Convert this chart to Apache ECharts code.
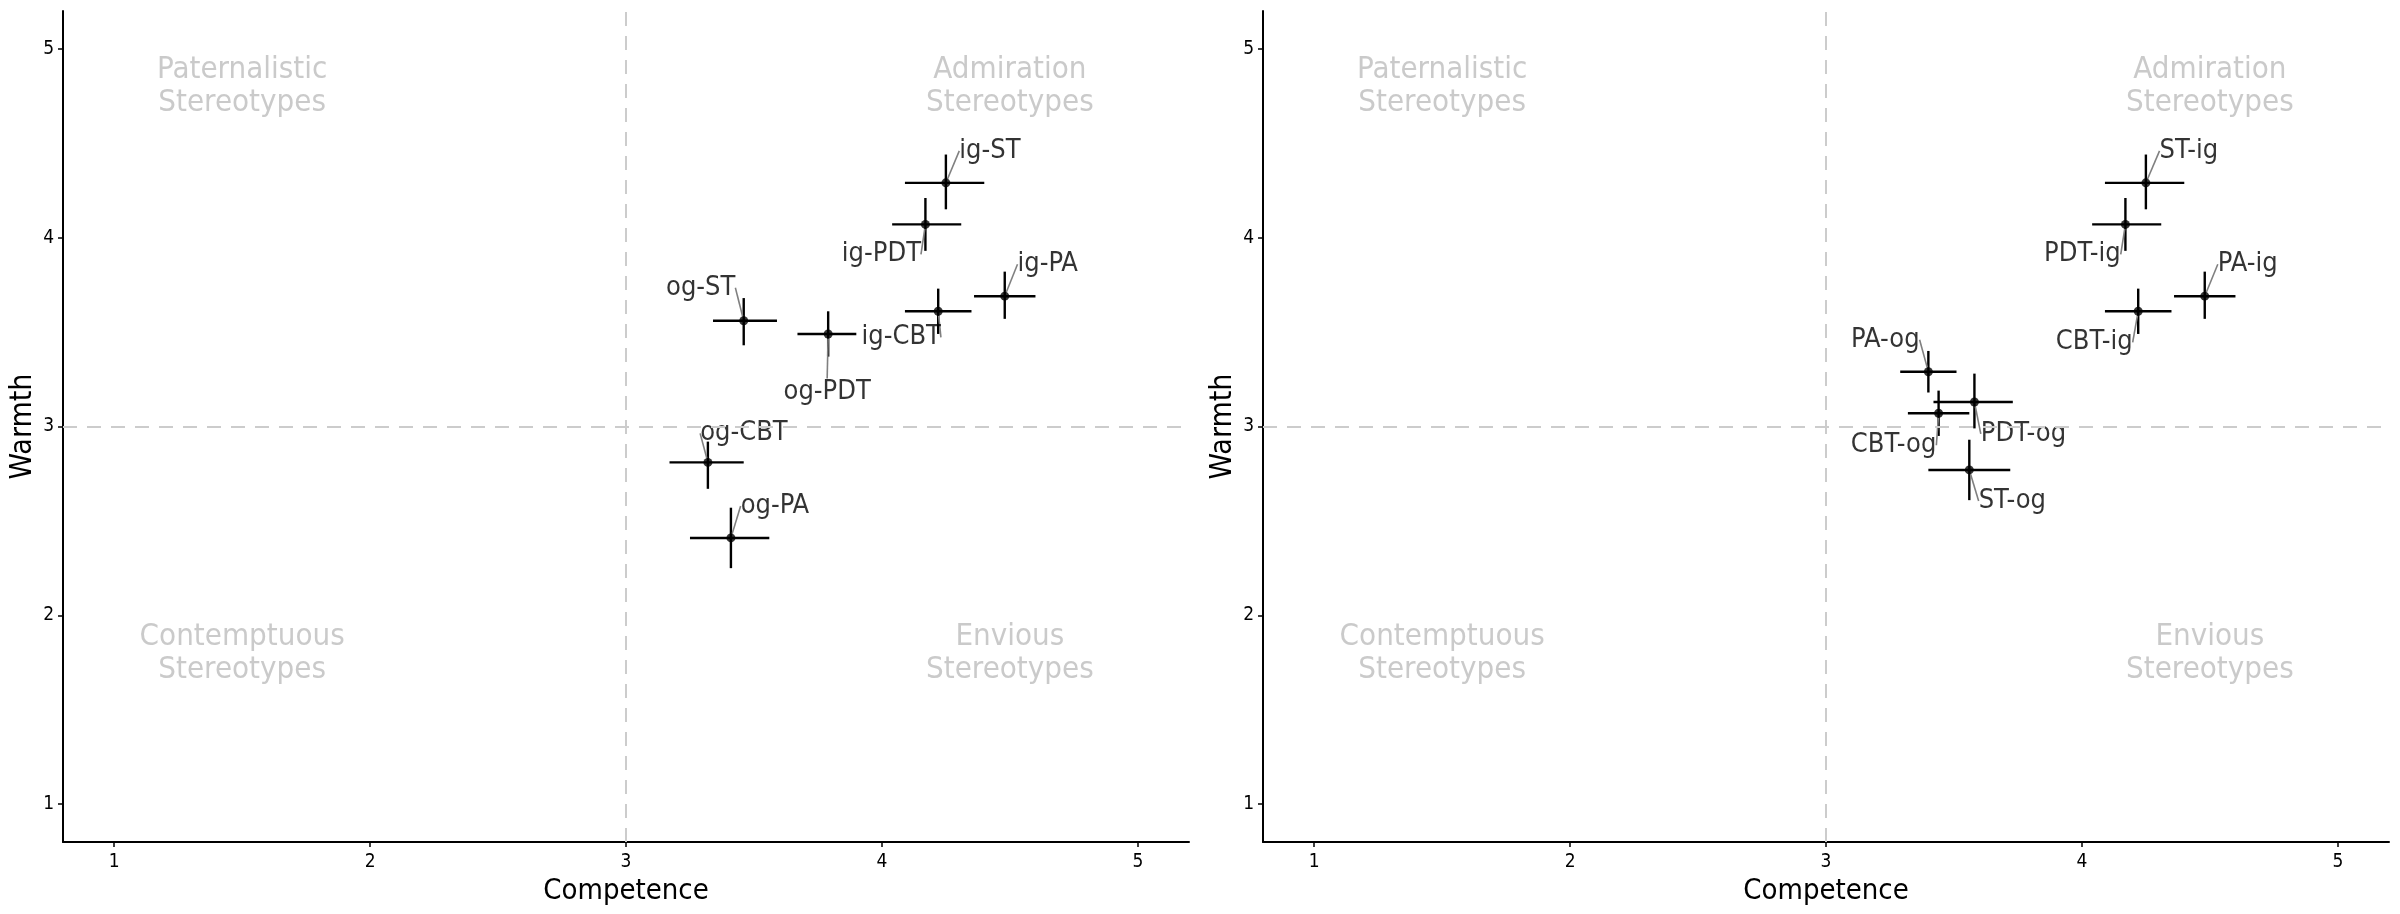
<!DOCTYPE html>
<html>
<head>
<meta charset="utf-8">
<title>Stereotype content</title>
<script src="https://cdn.jsdelivr.net/npm/echarts@6/dist/echarts.min.js"></script>
<style>
	html, body { margin: 0; padding: 0; background: #fff; }
	#myChart { width: 2400px; height: 914px; }
</style>
</head>
<body>
<div id="myChart"></div>
<script>
// left panel
var leftLabels = ['ig-ST', 'ig-PDT', 'ig-PA', 'ig-CBT', 'og-ST', 'og-PDT', 'og-CBT', 'og-PA'];
var leftComp = [4.25, 4.17, 4.48, 4.22, 3.46, 3.79, 3.32, 3.41];
var leftWarm = [4.29, 4.07, 3.69, 3.61, 3.56, 3.49, 2.81, 2.41];
var leftCompLo = [4.09, 4.04, 4.36, 4.09, 3.34, 3.67, 3.17, 3.25];
var leftCompHi = [4.40, 4.31, 4.60, 4.35, 3.59, 3.90, 3.46, 3.56];
var leftWarmLo = [4.15, 3.93, 3.57, 3.49, 3.43, 3.37, 2.67, 2.25];
var leftWarmHi = [4.44, 4.21, 3.82, 3.73, 3.68, 3.61, 2.92, 2.57];

// right panel
var rightLabels = ['ST-ig', 'PDT-ig', 'PA-ig', 'CBT-ig', 'PA-og', 'PDT-og', 'CBT-og', 'ST-og'];
var rightComp = [4.25, 4.17, 4.48, 4.22, 3.40, 3.58, 3.44, 3.56];
var rightWarm = [4.29, 4.07, 3.69, 3.61, 3.29, 3.13, 3.07, 2.77];
var rightCompLo = [4.09, 4.04, 4.36, 4.09, 3.29, 3.42, 3.32, 3.40];
var rightCompHi = [4.40, 4.31, 4.60, 4.35, 3.51, 3.73, 3.56, 3.72];
var rightWarmLo = [4.15, 3.93, 3.57, 3.49, 3.18, 2.99, 2.95, 2.61];
var rightWarmHi = [4.44, 4.21, 3.82, 3.73, 3.40, 3.28, 3.19, 2.93];

// quadrant captions
var quadText = ['Paternalistic\nStereotypes', 'Admiration\nStereotypes', 'Contemptuous\nStereotypes', 'Envious\nStereotypes'];
var quadComp = [1.5, 4.5, 1.5, 4.5];
var quadWarm = [4.8, 4.8, 1.8, 1.8];

var tickValues = [1, 2, 3, 4, 5];

// where the repelled labels sit, in px from their point
var leftOffsets = [[44, -32], [-44, 30], [43, -32], [-37, 26], [-43, -33], [-1, 58], [36, -29], [44, -32]];
var rightOffsets = [[43, -32], [-43, 30], [43, -32], [-44, 31], [-43, -32], [49, 32], [-45, 32], [43, 31]];

var FONT = '"DejaVu Sans Condensed", "DejaVu Sans", sans-serif';

function barData(comp, warm, lo, hi, wlo, whi) {
	var out = [];
	for (var i = 0; i < comp.length; i++) {
		out.push([comp[i], warm[i], lo[i], hi[i], wlo[i], whi[i]]);
	}
	return out;
}

function pointData(comp, warm, labels) {
	var out = [];
	for (var i = 0; i < comp.length; i++) {
		out.push({ name: labels[i], value: [comp[i], warm[i]] });
	}
	return out;
}

function quadData() {
	var out = [];
	for (var i = 0; i < quadText.length; i++) {
		out.push({ name: quadText[i], value: [quadComp[i], quadWarm[i]] });
	}
	return out;
}

function renderBars(params, api) {
	var x = api.value(0), y = api.value(1);
	var a = api.coord([api.value(2), y]), b = api.coord([api.value(3), y]);
	var c = api.coord([x, api.value(4)]), d = api.coord([x, api.value(5)]);
	var st = { stroke: '#000', lineWidth: 2.4 };
	return {
		type: 'group',
		children: [
			{ type: 'line', shape: { x1: a[0], y1: a[1], x2: b[0], y2: b[1] }, style: st },
			{ type: 'line', shape: { x1: c[0], y1: c[1], x2: d[0], y2: d[1] }, style: st }
		]
	};
}

function xAxisFor(idx) {
	return {
		type: 'value', gridIndex: idx, min: 0.8, max: 5.2,
		name: 'Competence', nameLocation: 'middle', nameGap: 28,
		nameTextStyle: { fontFamily: FONT, fontSize: 29, color: '#000' },
		splitLine: { show: false },
		axisLine: { show: true, onZero: false, lineStyle: { color: '#000', width: 2 } },
		axisTick: { show: true, length: 5, customValues: tickValues, lineStyle: { color: '#000', width: 1.5 } },
		axisLabel: { customValues: tickValues, margin: 11, fontFamily: FONT, fontSize: 19, color: '#000' }
	};
}

function yAxisFor(idx) {
	return {
		type: 'value', gridIndex: idx, min: 0.8, max: 5.2,
		name: 'Warmth', nameLocation: 'middle', nameGap: 25,
		nameTextStyle: { fontFamily: FONT, fontSize: 30, color: '#000' },
		splitLine: { show: false },
		axisLine: { show: true, onZero: false, lineStyle: { color: '#000', width: 2 } },
		axisTick: { show: true, length: 5, customValues: tickValues, lineStyle: { color: '#000', width: 1.5 } },
		axisLabel: { customValues: tickValues, margin: 9, fontFamily: FONT, fontSize: 19, color: '#000' }
	};
}

function panelSeries(idx, comp, warm, lo, hi, wlo, whi, labels, offsets) {
	return [
		{
			type: 'scatter', xAxisIndex: idx, yAxisIndex: idx, symbolSize: 0, silent: true, z: 1,
			data: quadData(),
			label: {
				show: true, position: 'inside', formatter: '{b}',
				fontFamily: FONT, fontSize: 31, lineHeight: 33, color: '#bdbdbd', align: 'center'
			},
			markLine: {
				silent: true, symbol: 'none', label: { show: false },
				lineStyle: { color: '#cccccc', type: [14, 10], width: 2 },
				data: [{ xAxis: 3 }, { yAxis: 3 }]
			}
		},
		{
			type: 'custom', xAxisIndex: idx, yAxisIndex: idx, silent: true, z: 3,
			renderItem: renderBars,
			encode: { x: 0, y: 1 },
			data: barData(comp, warm, lo, hi, wlo, whi)
		},
		{
			type: 'scatter', xAxisIndex: idx, yAxisIndex: idx, symbolSize: 9, z: 4,
			itemStyle: { color: '#000' },
			data: pointData(comp, warm, labels),
			label: {
				show: true, position: 'inside', formatter: '{b}',
				fontFamily: FONT, fontSize: 27, color: '#000'
			},
			labelLine: { show: true, lineStyle: { color: '#808080', width: 1.6 } },
			labelLayout: function (p) {
				var o = offsets[p.dataIndex];
				return { dx: o[0], dy: o[1] };
			}
		}
	];
}

var option = {
	backgroundColor: '#fff',
	animation: false,
	grid: [
		{ left: 63, top: 11, width: 1126, height: 831 },
		{ left: 1263, top: 11, width: 1126, height: 831 }
	],
	xAxis: [xAxisFor(0), xAxisFor(1)],
	yAxis: [yAxisFor(0), yAxisFor(1)],
	series: panelSeries(0, leftComp, leftWarm, leftCompLo, leftCompHi, leftWarmLo, leftWarmHi, leftLabels, leftOffsets)
		.concat(panelSeries(1, rightComp, rightWarm, rightCompLo, rightCompHi, rightWarmLo, rightWarmHi, rightLabels, rightOffsets))
};

var myChart = echarts.init(document.getElementById('myChart'));
myChart.setOption(option);
</script>
</body>
</html>
